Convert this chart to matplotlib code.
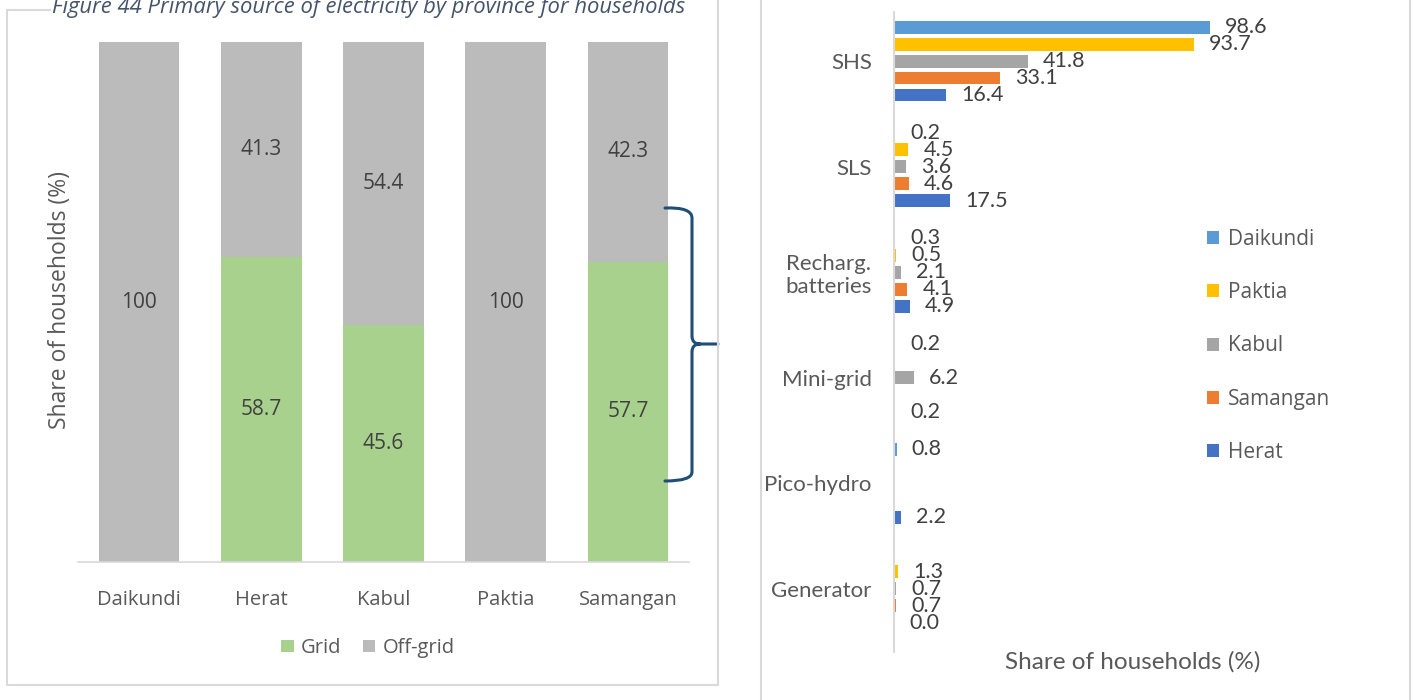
import matplotlib
matplotlib.use("Agg")
import matplotlib.pyplot as plt
import numpy as np
from matplotlib.lines import Line2D
from matplotlib.patches import PathPatch
from matplotlib.path import Path

# left chart: grid vs off-grid by province
provinces = ["Daikundi", "Herat", "Kabul", "Paktia", "Samangan"]
grid = [0, 58.7, 45.6, 0, 57.7]
off_grid = [100, 41.3, 54.4, 100, 42.3]

# right chart: off-grid source by province
sources = ["SHS", "SLS", "Recharg.\nbatteries", "Mini-grid", "Pico-hydro", "Generator"]
series_names = ["Daikundi", "Paktia", "Kabul", "Samangan", "Herat"]
daikundi = [98.6, 0.2, 0.3, 0.2, 0.8, np.nan]
paktia = [93.7, 4.5, 0.5, np.nan, np.nan, 1.3]
kabul = [41.8, 3.6, 2.1, 6.2, np.nan, 0.7]
samangan = [33.1, 4.6, 4.1, np.nan, np.nan, 0.7]
herat = [16.4, 17.5, 4.9, 0.2, 2.2, 0.0]
series_vals = [daikundi, paktia, kabul, samangan, herat]
series_colors = ["#5B9BD5", "#FFC000", "#A5A5A5", "#ED7D31", "#4472C4"]

W, H = 1420, 700
TXT = "#404040"
TICK = "#595959"
FRAME = "#D9D9D9"

plt.rcParams["font.family"] = ["Open Sans", "DejaVu Sans"]

fig = plt.figure(figsize=(W / 100, H / 100), dpi=100)


def fx(px):
    return px / W


def fy(py):
    return 1 - py / H


def frame_line(xs, ys):
    fig.add_artist(Line2D([fx(v) for v in xs], [fy(v) for v in ys],
                          transform=fig.transFigure, color=FRAME, lw=1.5))


# panel frames (top edge of the left one is hidden by the title)
frame_line([50, 7, 7, 718, 718], [10, 10, 685, 685, -5])
frame_line([761, 761], [-5, 705])
frame_line([1410, 1410], [-5, 705])

# title (cut at the top like the source)
fig.text(fx(52), fy(13), "Figure 44 Primary source of electricity by province for households",
         fontsize=15.8, style="italic", color="#44546A", va="baseline", ha="left")

# ---- left: stacked bars
ax1 = fig.add_axes([fx(78), fy(562), fx(689) - fx(78), fy(42) - fy(562)])
x = np.arange(len(provinces))
ax1.bar(x, grid, 0.66, color="#A9D18E", label="Grid")
ax1.bar(x, off_grid, 0.66, bottom=grid, color="#BBBBBB", label="Off-grid")
for i in range(len(provinces)):
    if grid[i] > 0:
        ax1.text(x[i], grid[i] / 2, f"{grid[i]:g}", ha="center", va="center",
                 fontsize=15, color=TXT)
    ax1.text(x[i], grid[i] + off_grid[i] / 2, f"{off_grid[i]:g}", ha="center",
             va="center", fontsize=15, color=TXT)
ax1.set_xlim(-0.5, len(provinces) - 0.5)
ax1.set_ylim(0, 100)
ax1.set_xticks(x, provinces)
ax1.tick_params(axis="x", length=0, pad=20, labelsize=14.5, labelcolor=TICK)
ax1.set_yticks([])
for s in ["top", "right", "left"]:
    ax1.spines[s].set_visible(False)
ax1.spines["bottom"].set_color(FRAME)
ax1.spines["bottom"].set_linewidth(1.2)
fig.text(fx(60), fy(300), "Share of households (%)", rotation=90, fontsize=16.5,
         color=TICK, ha="center", va="center")
ax1.legend(loc="center", bbox_to_anchor=(fx(368), fy(648)), bbox_transform=fig.transFigure,
           ncol=2, frameon=False, fontsize=14.5, labelcolor=TICK, handlelength=0.6,
           handleheight=0.6, handletextpad=0.35, columnspacing=1.1)

# brace
verts = [(665, 208), (692, 207), (692, 218), (692, 336), (692, 344), (700, 344), (718, 344),
         (700, 344), (692, 344), (692, 352), (692, 472), (692, 481), (665, 481)]
codes = [Path.MOVETO, Path.CURVE3, Path.CURVE3, Path.LINETO, Path.CURVE3, Path.CURVE3,
         Path.LINETO, Path.MOVETO, Path.CURVE3, Path.CURVE3, Path.LINETO, Path.CURVE3,
         Path.CURVE3]
brace = Path([(fx(a), fy(b)) for a, b in verts], codes)
fig.add_artist(PathPatch(brace, transform=fig.transFigure, fill=False,
                         ec="#1F4E79", lw=2.2, capstyle="round"))

# ---- right: grouped horizontal bars
ax2 = fig.add_axes([fx(894), fy(652), 320 / W, fy(12) - fy(652)])
y = np.arange(len(sources))
slot = 0.161
for k, (name, vals, col) in enumerate(zip(series_names, series_vals, series_colors)):
    off = (k - 2) * slot
    ax2.barh(y + off, vals, 0.122, color=col, label=name)
    for j, v in enumerate(vals):
        if np.isnan(v):
            continue
        ax2.annotate(f"{v:.1f}", (v, y[j] + off), xytext=(11, 0), textcoords="offset points",
                     ha="left", va="center", fontsize=15.5, color=TXT, family="Lato",
                     annotation_clip=False)
ax2.set_xlim(0, 100)
ax2.set_ylim(len(sources) - 0.5 + 0.1, -0.5 + 0.035)
ax2.set_xticks([])
ax2.set_yticks(y, sources)
ax2.tick_params(axis="y", length=0, pad=16, labelsize=16, labelcolor=TICK)
for lab in ax2.get_yticklabels():
    lab.set_family("Lato")
    lab.set_multialignment("center")
for s in ["top", "right", "bottom"]:
    ax2.spines[s].set_visible(False)
ax2.spines["left"].set_color(FRAME)
ax2.spines["left"].set_linewidth(1.5)
fig.text(fx(1133), fy(662), "Share of households (%)", fontsize=17.5, color=TICK,
         family="Lato", ha="center", va="center")
ax2.legend(loc="center left", bbox_to_anchor=(fx(1188), fy(346)), bbox_transform=fig.transFigure,
           frameon=False, fontsize=15, labelcolor=TICK, handlelength=0.6, handleheight=0.6,
           handletextpad=0.4, labelspacing=1.55)

fig.savefig("out.png", dpi=100)
